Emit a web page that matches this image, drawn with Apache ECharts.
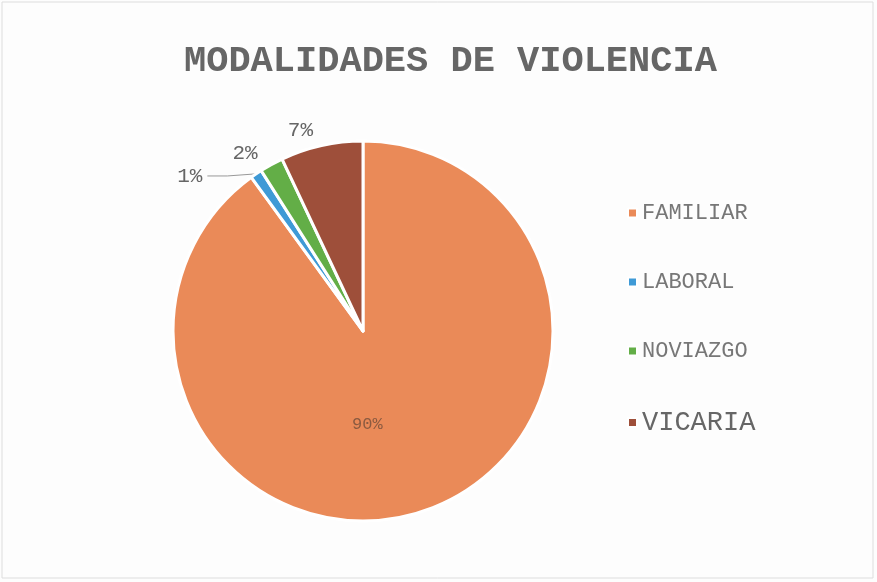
<!DOCTYPE html>
<html>
<head>
<meta charset="utf-8">
<script src="https://cdn.jsdelivr.net/npm/echarts@6/dist/echarts.min.js"></script>
<style>
  html, body { margin: 0; padding: 0; background: #fff; }
  #chart { width: 877px; height: 582px; }
</style>
</head>
<body>
<div id="chart"></div>
<script>
const categories = ['FAMILIAR', 'LABORAL', 'NOVIAZGO', 'VICARIA'];
const values = [90, 1, 2, 7];
const colors = ['#EA8A58', '#3F9AD6', '#63AE47', '#9E4F3A'];

const font = "'Courier New', 'Liberation Mono', monospace";

const chart = echarts.init(document.getElementById('chart'));
chart.setOption({
  backgroundColor: '#fdfdfd',
  title: {
    text: 'MODALIDADES DE VIOLENCIA',
    left: 179,
    top: 38,
    textStyle: {
      fontFamily: font,
      fontSize: 37,
      fontWeight: 'bold',
      color: '#666'
    }
  },
  legend: {
    orient: 'vertical',
    left: 622,
    top: 197,
    itemWidth: 9,
    itemHeight: 9,
    itemGap: 47,
    icon: 'rect',
    textStyle: { fontFamily: font, fontSize: 22, color: '#777' },
    data: categories.map((name, i) => ({
      name,
      textStyle: i === 3 ? { fontSize: 27, color: '#666' } : {}
    }))
  },
  graphic: [{
    type: 'rect',
    shape: { x: 2, y: 2, width: 871, height: 576 },
    style: { fill: 'none', stroke: '#ddd', lineWidth: 1 }
  }],
  series: [{
    type: 'pie',
    center: [363, 331],
    radius: 190,
    startAngle: 90,
    clockwise: true,
    avoidLabelOverlap: true,
    itemStyle: { borderColor: '#fff', borderWidth: 3 },
    label: {
      formatter: '{c}%',
      fontFamily: font,
      fontSize: 21,
      color: '#666'
    },
    labelLine: { length: 22, length2: 20, lineStyle: { color: '#999' } },
    data: categories.map((name, i) => {
      const item = { name, value: values[i], itemStyle: { color: colors[i] } };
      if (i === 0) {
        item.label = { position: 'inside', color: '#8a5a40', fontSize: 17, offset: [-26, 0] };
      }
      if (i === 2 || i === 3) {
        item.labelLine = { show: false, length: 16, length2: 0 };
      }
      return item;
    })
  }]
});
</script>
</body>
</html>
